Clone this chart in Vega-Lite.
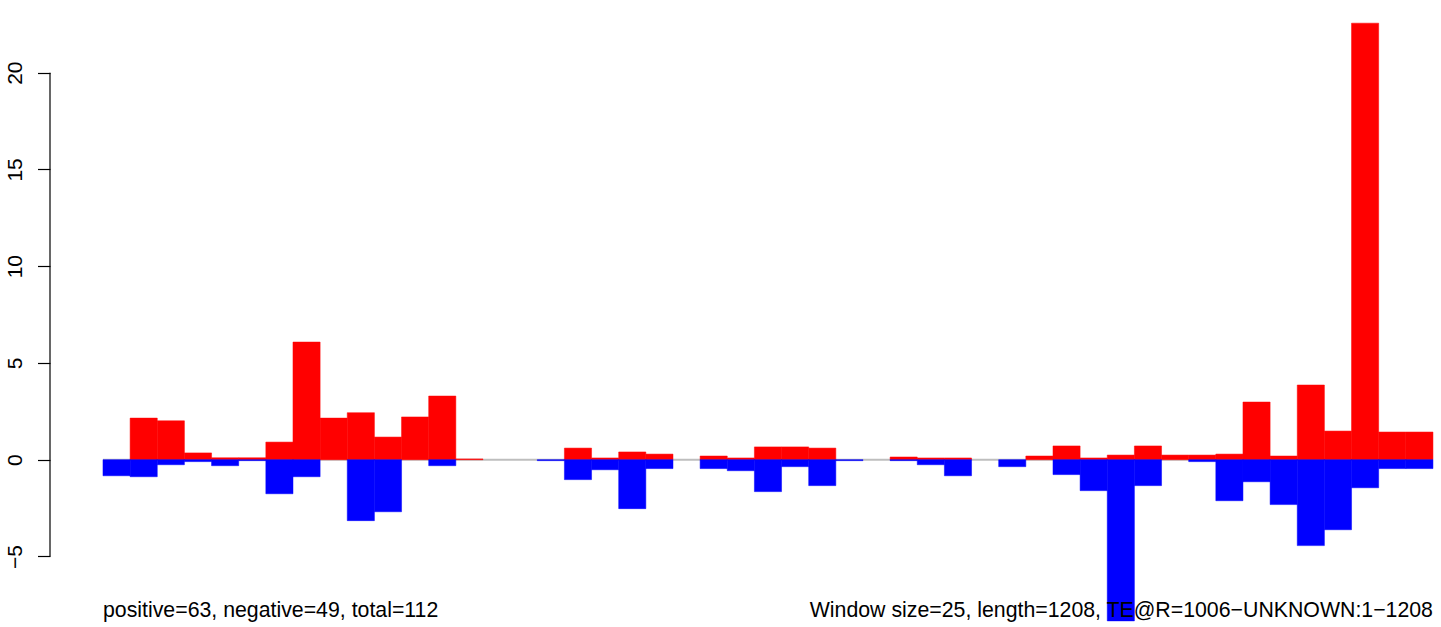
{
  "$schema": "https://vega.github.io/schema/vega-lite/v6.json",
  "width": 1391,
  "height": 627,
  "autosize": {"type": "none"},
  "padding": {"left": 50, "top": 0, "right": 0, "bottom": 0},
  "background": "white",
  "config": {
    "view": {"stroke": null},
    "font": "Liberation Sans",
    "axisY": {
      "domain": false,
      "grid": false,
      "ticks": true,
      "tickSize": 12.5,
      "tickColor": "black",
      "tickWidth": 1.2,
      "labelAngle": -90,
      "labelAlign": "center",
      "labelBaseline": "alphabetic",
      "labelPadding": 15.7,
      "labelFontSize": 21,
      "labelFont": "Liberation Sans",
      "labelFontWeight": "normal",
      "labelColor": "black",
      "labelFlush": false,
      "labelOverlap": false
    }
  },
  "title": {
    "text": "Coverage TE by strand in a map",
    "font": "Liberation Sans",
    "fontSize": 25,
    "fontWeight": "bold",
    "color": "black",
    "anchor": "middle",
    "frame": "group",
    "baseline": "alphabetic",
    "offset": 3,
    "dx": 8.5
  },
  "data": {
    "values": [
      {"window": 1, "start": 0, "end": 25, "pos": 0, "neg": -0.83},
      {"window": 2, "start": 25, "end": 50, "pos": 2.15, "neg": -0.88},
      {"window": 3, "start": 50, "end": 75, "pos": 2.01, "neg": -0.26},
      {"window": 4, "start": 75, "end": 100, "pos": 0.35, "neg": -0.1},
      {"window": 5, "start": 100, "end": 125, "pos": 0.1, "neg": -0.31},
      {"window": 6, "start": 125, "end": 150, "pos": 0.1, "neg": -0.05},
      {"window": 7, "start": 150, "end": 175, "pos": 0.91, "neg": -1.76},
      {"window": 8, "start": 175, "end": 200, "pos": 6.08, "neg": -0.88},
      {"window": 9, "start": 200, "end": 225, "pos": 2.15, "neg": 0},
      {"window": 10, "start": 225, "end": 250, "pos": 2.43, "neg": -3.15},
      {"window": 11, "start": 250, "end": 275, "pos": 1.17, "neg": -2.69},
      {"window": 12, "start": 275, "end": 300, "pos": 2.21, "neg": 0},
      {"window": 13, "start": 300, "end": 325, "pos": 3.29, "neg": -0.31},
      {"window": 14, "start": 325, "end": 350, "pos": 0.04, "neg": 0},
      {"window": 15, "start": 350, "end": 375, "pos": 0, "neg": 0},
      {"window": 16, "start": 375, "end": 400, "pos": 0, "neg": 0},
      {"window": 17, "start": 400, "end": 425, "pos": 0, "neg": -0.05},
      {"window": 18, "start": 425, "end": 450, "pos": 0.6, "neg": -1.03},
      {"window": 19, "start": 450, "end": 475, "pos": 0.09, "neg": -0.52},
      {"window": 20, "start": 475, "end": 500, "pos": 0.4, "neg": -2.53},
      {"window": 21, "start": 500, "end": 525, "pos": 0.29, "neg": -0.46},
      {"window": 22, "start": 525, "end": 550, "pos": 0, "neg": 0},
      {"window": 23, "start": 550, "end": 575, "pos": 0.19, "neg": -0.46},
      {"window": 24, "start": 575, "end": 600, "pos": 0.09, "neg": -0.57},
      {"window": 25, "start": 600, "end": 625, "pos": 0.66, "neg": -1.65},
      {"window": 26, "start": 625, "end": 650, "pos": 0.66, "neg": -0.36},
      {"window": 27, "start": 650, "end": 675, "pos": 0.6, "neg": -1.34},
      {"window": 28, "start": 675, "end": 700, "pos": 0, "neg": -0.05},
      {"window": 29, "start": 700, "end": 725, "pos": 0, "neg": 0},
      {"window": 30, "start": 725, "end": 750, "pos": 0.14, "neg": -0.05},
      {"window": 31, "start": 750, "end": 775, "pos": 0.09, "neg": -0.26},
      {"window": 32, "start": 775, "end": 800, "pos": 0.09, "neg": -0.83},
      {"window": 33, "start": 800, "end": 825, "pos": 0, "neg": 0},
      {"window": 34, "start": 825, "end": 850, "pos": 0, "neg": -0.36},
      {"window": 35, "start": 850, "end": 875, "pos": 0.19, "neg": 0},
      {"window": 36, "start": 875, "end": 900, "pos": 0.71, "neg": -0.77},
      {"window": 37, "start": 900, "end": 925, "pos": 0.09, "neg": -1.6},
      {"window": 38, "start": 925, "end": 950, "pos": 0.24, "neg": -8.33},
      {"window": 39, "start": 950, "end": 975, "pos": 0.71, "neg": -1.34},
      {"window": 40, "start": 975, "end": 1000, "pos": 0.24, "neg": 0},
      {"window": 41, "start": 1000, "end": 1025, "pos": 0.24, "neg": -0.1},
      {"window": 42, "start": 1025, "end": 1050, "pos": 0.29, "neg": -2.12},
      {"window": 43, "start": 1050, "end": 1075, "pos": 2.98, "neg": -1.14},
      {"window": 44, "start": 1075, "end": 1100, "pos": 0.19, "neg": -2.32},
      {"window": 45, "start": 1100, "end": 1125, "pos": 3.86, "neg": -4.44},
      {"window": 46, "start": 1125, "end": 1150, "pos": 1.48, "neg": -3.62},
      {"window": 47, "start": 1150, "end": 1175, "pos": 22.56, "neg": -1.45},
      {"window": 48, "start": 1175, "end": 1200, "pos": 1.43, "neg": -0.46},
      {"window": 49, "start": 1200, "end": 1225, "pos": 1.43, "neg": -0.46}
    ]
  },
  "layer": [
    {
      "data": {"values": [{}]},
      "mark": {"type": "rule", "color": "#BEBEBE", "strokeWidth": 2},
      "encoding": {
        "x": {"datum": 0, "type": "quantitative", "scale": {"domain": [-48.8, 1232.4], "nice": false, "zero": false}, "axis": null},
        "x2": {"datum": 1225},
        "y": {"datum": 0, "type": "quantitative", "scale": {"domain": [-8.646, 23.757], "nice": false, "zero": false}, "axis": {"title": null, "values": [-5, 0, 5, 10, 15, 20]}}
      }
    },
    {
      "transform": [{"filter": "datum.pos > 0"}],
      "mark": {"type": "bar", "color": "#FF0000", "stroke": "#FF0000", "strokeWidth": 0.5},
      "encoding": {
        "x": {"field": "start", "type": "quantitative", "scale": {"domain": [-48.8, 1232.4], "nice": false, "zero": false}, "axis": null},
        "x2": {"field": "end"},
        "y": {"field": "pos", "type": "quantitative", "scale": {"domain": [-8.646, 23.757], "nice": false, "zero": false}, "axis": {"title": null, "values": [-5, 0, 5, 10, 15, 20]}},
        "y2": {"datum": 0}
      }
    },
    {
      "transform": [{"filter": "datum.neg < 0"}],
      "mark": {"type": "bar", "color": "#0000FF", "stroke": "#0000FF", "strokeWidth": 0.5},
      "encoding": {
        "x": {"field": "start", "type": "quantitative", "scale": {"domain": [-48.8, 1232.4], "nice": false, "zero": false}, "axis": null},
        "x2": {"field": "end"},
        "y": {"field": "neg", "type": "quantitative", "scale": {"domain": [-8.646, 23.757], "nice": false, "zero": false}, "axis": {"title": null, "values": [-5, 0, 5, 10, 15, 20]}},
        "y2": {"datum": 0}
      }
    },
    {
      "data": {"values": [{}]},
      "mark": {"type": "rule", "color": "black", "strokeWidth": 1.2},
      "encoding": {
        "x": {"datum": -48.8, "type": "quantitative", "scale": {"domain": [-48.8, 1232.4], "nice": false, "zero": false}, "axis": null},
        "y": {"datum": -5, "type": "quantitative", "scale": {"domain": [-8.646, 23.757], "nice": false, "zero": false}, "axis": {"title": null, "values": [-5, 0, 5, 10, 15, 20]}},
        "y2": {"datum": 20}
      }
    },
    {
      "data": {"values": [{}]},
      "mark": {"type": "text", "align": "left", "baseline": "alphabetic", "fontSize": 21.3, "font": "Liberation Sans", "fontWeight": "normal", "color": "black"},
      "encoding": {
        "x": {"datum": 0, "type": "quantitative", "scale": {"domain": [-48.8, 1232.4], "nice": false, "zero": false}, "axis": null},
        "y": {"datum": -8.125, "type": "quantitative", "scale": {"domain": [-8.646, 23.757], "nice": false, "zero": false}, "axis": {"title": null, "values": [-5, 0, 5, 10, 15, 20]}},
        "text": {"value": "positive=63, negative=49, total=112"}
      }
    },
    {
      "data": {"values": [{}]},
      "mark": {"type": "text", "align": "right", "baseline": "alphabetic", "fontSize": 21.3, "font": "Liberation Sans", "fontWeight": "normal", "color": "black"},
      "encoding": {
        "x": {"datum": 1225, "type": "quantitative", "scale": {"domain": [-48.8, 1232.4], "nice": false, "zero": false}, "axis": null},
        "y": {"datum": -8.125, "type": "quantitative", "scale": {"domain": [-8.646, 23.757], "nice": false, "zero": false}, "axis": {"title": null, "values": [-5, 0, 5, 10, 15, 20]}},
        "text": {"value": "Window size=25, length=1208, TE@R=1006−UNKNOWN:1−1208"}
      }
    }
  ]
}
